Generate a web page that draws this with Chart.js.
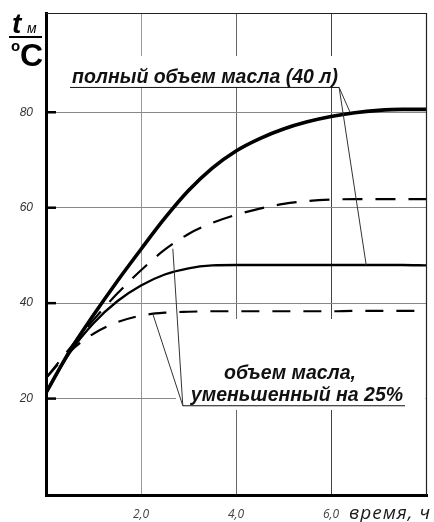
<!DOCTYPE html>
<html>
<head>
<meta charset="utf-8">
<script src="https://cdn.jsdelivr.net/npm/chart.js@4/dist/chart.umd.min.js"></script>
<style>
html,body{margin:0;padding:0;background:#fff;}
canvas{display:block;}
</style>
</head>
<body>
<canvas id="c" width="434" height="522"></canvas>
<script>
// ---- data ----
const time = [0, 0.5, 1, 1.5, 2, 2.5, 3, 3.5, 4, 4.5, 5, 5.5, 6, 6.5, 7, 7.5, 8];
// полный объем масла (40 л)
const fullUpper = [21.2, 30.0, 37.5, 44.6, 51.3, 57.8, 63.6, 68.3, 71.9, 74.5, 76.5, 78.0, 79.1, 79.9, 80.4, 80.6, 80.6];
const fullLower = [21.2, 29.6, 35.8, 40.4, 43.7, 46.0, 47.3, 47.9, 48.0, 48.0, 48.0, 48.0, 48.0, 48.0, 48.0, 48.0, 47.9];
// объем масла, уменьшенный на 25%
const reducedUpper = [24.3, 30.5, 36.5, 42.0, 46.9, 51.2, 54.5, 56.8, 58.5, 59.8, 60.8, 61.4, 61.7, 61.8, 61.8, 61.8, 61.8];
const reducedLower = [24.3, 29.8, 33.6, 36.0, 37.4, 38.0, 38.2, 38.3, 38.3, 38.3, 38.3, 38.3, 38.3, 38.4, 38.4, 38.4, 38.4];
const xTicks = [2, 4, 6];
const yTicks = [20, 40, 60, 80];
const labelFull = 'полный объем масла (40 л)';
const labelReduced1 = 'объем масла,';
const labelReduced2 = 'уменьшенный на 25%';
const xTitle = 'время, ч';
// leader line anchors in data coordinates: [from, to]
const leadersFull = [[[6.17, 85.2], [6.40, 80.0]], [[6.17, 85.2], [6.74, 48.0]]];
const leadersReduced = [[[2.88, 18.5], [2.67, 51.4]], [[2.88, 18.5], [2.25, 37.7]]];

const pts = arr => time.map((t, i) => ({x: t, y: arr[i]}));

const decor = {
  id: 'decor',
  beforeDatasetsDraw(chart) {
    const ctx = chart.ctx;
    const a = chart.chartArea;
    ctx.save();
    ctx.fillStyle = '#fff';
    ctx.fillRect(68, 56, 276, 31);
    ctx.fillRect(176, 319, a.right - 177.5, 91);
    ctx.restore();
  },
  afterDraw(chart) {
    const ctx = chart.ctx;
    const a = chart.chartArea;
    const xs = chart.scales.x, ys = chart.scales.y;
    const P = p => [xs.getPixelForValue(p[0]), ys.getPixelForValue(p[1])];
    ctx.save();
    // top and right frame
    ctx.strokeStyle = '#222';
    ctx.lineWidth = 1.2;
    ctx.beginPath();
    ctx.moveTo(a.left, a.top + 0.5); ctx.lineTo(a.right - 0.5, a.top + 0.5); ctx.lineTo(a.right - 0.5, a.bottom);
    ctx.stroke();
    // y tick marks inside plot
    ctx.strokeStyle = '#000';
    ctx.lineWidth = 2.5;
    yTicks.forEach(v => {
      const y = ys.getPixelForValue(v);
      ctx.beginPath(); ctx.moveTo(a.left, y); ctx.lineTo(a.left + 10, y); ctx.stroke();
    });
    // leader lines
    ctx.lineWidth = 1;
    ctx.strokeStyle = '#333';
    [...leadersFull, ...leadersReduced].forEach(([p, q]) => {
      const pa = P(p), pb = P(q);
      ctx.beginPath(); ctx.moveTo(pa[0], pa[1]); ctx.lineTo(pb[0], pb[1]); ctx.stroke();
    });
    // underlines
    ctx.strokeStyle = '#111';
    const f0 = P(leadersFull[0][0]);
    ctx.beginPath(); ctx.moveTo(70, f0[1]); ctx.lineTo(f0[0], f0[1]); ctx.stroke();
    const r0 = P(leadersReduced[0][0]);
    ctx.beginPath(); ctx.moveTo(r0[0], r0[1]); ctx.lineTo(405, r0[1]); ctx.stroke();
    // labels
    ctx.fillStyle = '#111';
    ctx.font = 'bold italic 19.5px "Liberation Sans", Arial, sans-serif';
    ctx.textAlign = 'left';
    ctx.textBaseline = 'alphabetic';
    ctx.fillText(labelFull, 72, 83);
    ctx.textAlign = 'center';
    ctx.fillText(labelReduced1, 290, 379);
    ctx.fillText(labelReduced2, 297, 401);
    // x axis title
    ctx.font = 'italic 19px "Open Sans", sans-serif';
    ctx.textAlign = 'left';
    ctx.fillStyle = '#1a1a1a';
    try { ctx.letterSpacing = '1px'; } catch (e) {}
    ctx.fillText(xTitle, 349, 519);
    try { ctx.letterSpacing = '0px'; } catch (e) {}
    // y axis title  t_м / °C
    ctx.fillStyle = '#000';
    ctx.font = 'bold italic 28px "Liberation Sans", Arial, sans-serif';
    ctx.fillText('t', 12, 33);
    ctx.font = 'italic 14px "Liberation Sans", Arial, sans-serif';
    ctx.fillText('м', 27, 33);
    ctx.fillRect(9, 36, 33, 2);
    ctx.font = 'bold 15px "Liberation Sans", Arial, sans-serif';
    ctx.fillText('o', 11, 51);
    ctx.font = 'bold 32px "Liberation Sans", Arial, sans-serif';
    ctx.fillText('C', 20, 66);
    ctx.restore();
  }
};

new Chart(document.getElementById('c'), {
  type: 'line',
  data: {
    datasets: [
      {data: pts(fullUpper), borderColor: '#000', borderWidth: 3.6},
      {data: pts(fullLower), borderColor: '#000', borderWidth: 2.3},
      {data: pts(reducedUpper), borderColor: '#000', borderWidth: 2.2, borderDash: [20, 13]},
      {data: pts(reducedLower), borderColor: '#000', borderWidth: 2.2, borderDash: [18, 13]}
    ]
  },
  options: {
    responsive: false,
    animation: false,
    devicePixelRatio: 1,
    layout: {padding: {top: 13, right: 7, left: 0, bottom: 0}},
    elements: {point: {radius: 0}, line: {cubicInterpolationMode: 'monotone', borderCapStyle: 'butt'}},
    plugins: {legend: {display: false}, tooltip: {enabled: false}},
    scales: {
      x: {
        type: 'linear', min: 0, max: 8.02,
        afterBuildTicks: s => { s.ticks = xTicks.map(v => ({value: v})); },
        ticks: {
          callback: v => v.toFixed(1).replace('.', ','),
          font: {family: '"Open Sans", sans-serif', style: 'italic', size: 12},
          color: '#444', padding: 12, maxRotation: 0, autoSkip: false
        },
        grid: {drawTicks: false, color: c => ['#999', '#666', '#444'][c.index] || '#777', lineWidth: 1},
        border: {color: '#000', width: 3},
        afterFit: s => { s.height = 27; s.paddingLeft = 0; s.paddingRight = 0; }
      },
      y: {
        type: 'linear', min: -0.2, max: 100.8,
        afterBuildTicks: s => { s.ticks = yTicks.map(v => ({value: v})); },
        ticks: {
          callback: v => String(v),
          font: {family: '"Liberation Sans", Arial, sans-serif', style: 'italic', size: 12},
          color: '#333', padding: 13
        },
        grid: {drawTicks: false, color: '#888', lineWidth: 1},
        border: {color: '#000', width: 3},
        afterFit: s => { s.width = 46; s.paddingTop = 0; s.paddingBottom = 0; }
      }
    }
  },
  plugins: [decor]
});
</script>
</body>
</html>
